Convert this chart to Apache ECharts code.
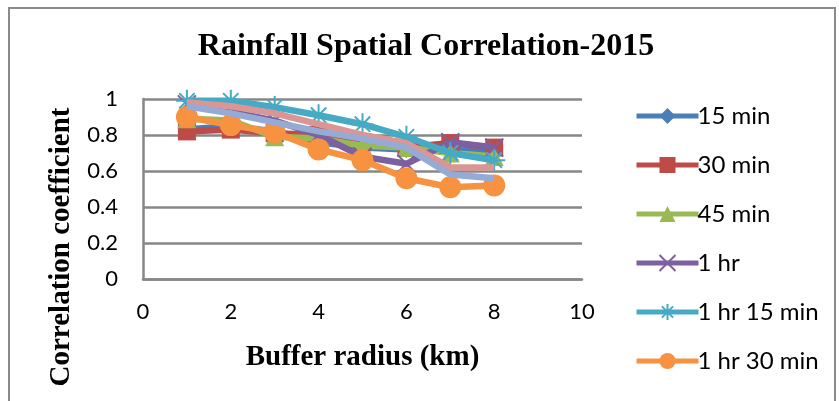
<!DOCTYPE html>
<html>
<head>
<meta charset="utf-8">
<script src="https://cdn.jsdelivr.net/npm/echarts@6/dist/echarts.min.js"></script>
<style>
  html, body { margin: 0; padding: 0; background: #fff; }
  #chart { width: 839px; height: 401px; }
</style>
</head>
<body>
<div id="chart"></div>
<script>
// buffer radius (km)
const radius = [1, 2, 3, 4, 5, 6, 7, 8];
const xTicks = [0, 2, 4, 6, 8, 10];
const yTicks = [0, 0.2, 0.4, 0.6, 0.8, 1];

const names = ["15 min", "30 min", "45 min", "1 hr", "1 hr 15 min", "1 hr 30 min", "1 hr 45 min", "2 hr"];
const min15 = [0.83, 0.85, 0.82, 0.76, 0.73, 0.72, 0.72, 0.70];
const min30 = [0.82, 0.83, 0.81, 0.80, 0.76, 0.73, 0.755, 0.73];
const min45 = [0.89, 0.88, 0.79, 0.78, 0.74, 0.73, 0.70, 0.68];
const hr1 = [0.97, 0.93, 0.88, 0.80, 0.68, 0.64, 0.76, 0.73];
const hr1min15 = [0.99, 0.99, 0.955, 0.91, 0.86, 0.79, 0.70, 0.66];
const hr1min30 = [0.90, 0.855, 0.815, 0.72, 0.66, 0.56, 0.51, 0.52];
const hr1min45 = [0.98, 0.96, 0.92, 0.86, 0.80, 0.755, 0.62, 0.62];
const hr2 = [0.96, 0.92, 0.87, 0.82, 0.78, 0.73, 0.58, 0.56];

const values = [min15, min30, min45, hr1, hr1min15, hr1min30, hr1min45, hr2];
const colors = ["#4A7EBB", "#BE4B48", "#98B954", "#7D60A0", "#46AAC5", "#F69240", "#DA9694", "#95ABD5"];
const symbols = [
  "diamond",
  "rect",
  "triangle",
  "path://M0,0L10,10M10,0L0,10",
  "path://M5,0L5,10M0,5L10,5M1.5,1.5L8.5,8.5M8.5,1.5L1.5,8.5",
  "circle",
  "path://M0,5L10,5",
  "path://M5,0L5,10"
];
const sizes = [17, 18, 19, 18, 22, 22, 10, 20];
const strokeSymbol = [false, false, false, true, true, false, true, true];

const chart = echarts.init(document.getElementById("chart"));

const series = names.map((n, i) => ({
  name: n,
  type: "line",
  data: radius.map((r, k) => [r, values[i][k]]),
  symbol: symbols[i],
  symbolSize: sizes[i],
  showAllSymbol: true,
  lineStyle: { color: colors[i], width: 6.5 },
  itemStyle: strokeSymbol[i]
    ? { color: colors[i], borderColor: colors[i], borderWidth: 2, opacity: 1 }
    : { color: colors[i], borderWidth: 0 },
  emphasis: { disabled: true },
  z: 2 + i
}));

chart.setOption({
  animation: false,
  title: {
    text: "Rainfall Spatial Correlation-2015",
    left: 421,
    top: 26,
    textAlign: "center",
    textStyle: { fontFamily: "Liberation Serif", fontWeight: "bold", fontSize: 32, color: "#000" }
  },
  grid: { left: 143, right: 257, top: 99, bottom: 122 },
  legend: {
    data: names.slice(0, 6),
    orient: "vertical",
    left: 629,
    top: 99,
    itemWidth: 62,
    itemHeight: 20,
    itemGap: 25,
    lineStyle: { width: 5 },
    textStyle: { fontFamily: "Lato", fontSize: 24, color: "#000", padding: [0, 0, 0, -6] }
  },
  xAxis: {
    type: "value",
    min: xTicks[0],
    max: xTicks[xTicks.length - 1],
    interval: 2,
    name: "Buffer radius (km)",
    nameLocation: "middle",
    nameGap: 64,
    nameTextStyle: { fontFamily: "Liberation Serif", fontWeight: "bold", fontSize: 29, color: "#000" },
    axisLine: { show: true, lineStyle: { color: "#878787", width: 2.5 } },
    axisTick: { show: false },
    splitLine: { show: false },
    axisLabel: { margin: 22, fontFamily: "Lato", fontSize: 22, color: "#000" }
  },
  yAxis: {
    type: "value",
    min: yTicks[0],
    max: yTicks[yTicks.length - 1],
    interval: 0.2,
    axisLine: { show: true, lineStyle: { color: "#878787", width: 2.5 } },
    axisTick: { show: false },
    splitLine: { show: true, lineStyle: { color: "#878787", width: 2.5 } },
    axisLabel: { margin: 25, fontFamily: "Lato", fontSize: 22, color: "#000" }
  },
  graphic: [
    {
      type: "rect",
      shape: { x: 9, y: 8, width: 826, height: 400 },
      style: { fill: "none", stroke: "#8a8a8a", lineWidth: 2 },
      silent: true,
      z: -1
    },
    {
      type: "text",
      x: 62,
      y: 247,
      rotation: Math.PI / 2,
      style: {
        text: "Correlation coefficient",
        fontFamily: "Liberation Serif",
        fontWeight: "bold",
        fontSize: 29,
        fill: "#000",
        textAlign: "center",
        textVerticalAlign: "middle"
      }
    }
  ],
  series: series
});
</script>
</body>
</html>
